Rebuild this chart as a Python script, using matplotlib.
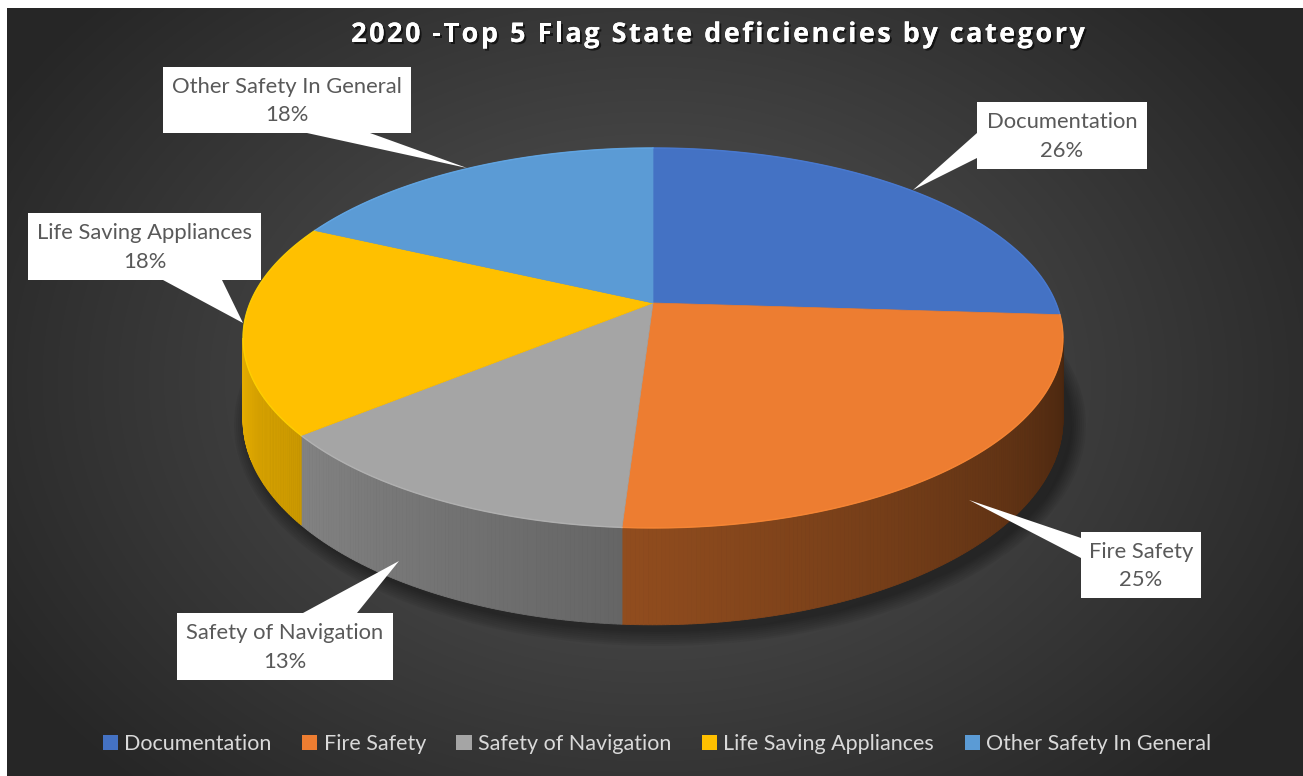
import numpy as np
import matplotlib
matplotlib.use("Agg")
import matplotlib.pyplot as plt
from matplotlib.patches import Polygon, Ellipse, Patch
import matplotlib.patheffects as pe

# data
categories = ["Documentation", "Fire Safety", "Safety of Navigation",
              "Life Saving Appliances", "Other Safety In General"]
shares = [26, 25, 13, 18, 18]
colors = ["#4472C4", "#ED7D31", "#A5A5A5", "#FFC000", "#5B9BD5"]
title = "2020 -Top 5 Flag State deficiencies by category"

W, H = 1303, 776

# pie geometry (pixels), simple perspective of a tilted disc
cx, cy = 653, 303
A, B, p = 403, 183.6, 0.184
T = 79  # thickness at unit depth

# callout layout: box (x0, y0, x1, y1), pointer base (2 pts), tip
callouts = [
    ((977, 102, 1147, 169), ((977, 133), (977, 158)), (913, 190)),
    ((1081, 532, 1201, 598), ((1081, 538), (1081, 558)), (969, 500)),
    ((177, 613, 393, 680), ((303, 613), (357, 613)), (399, 561)),
    ((28, 213, 261, 280), ((163, 280), (222, 280)), (243, 323)),
    ((163, 67, 411, 133), ((307, 133), (370, 133)), (467, 168)),
]


def rim(phi):
    r = np.radians(phi)
    u, v = np.sin(r), -np.cos(r)
    w = 1 - p * v
    return cx + A * u / w, cy + B * v / w, T / w


def shade(hexc, f):
    c = np.array(matplotlib.colors.to_rgb(hexc))
    return tuple(np.clip(c * f, 0, 1))


fig = plt.figure(figsize=(W / 100, H / 100), dpi=100, facecolor="white")
ax = fig.add_axes([0, 0, 1, 1])
ax.set_xlim(0, W)
ax.set_ylim(H, 0)
ax.axis("off")

# background radial gradient
yy, xx = np.mgrid[8:H, 7:W]
rr = np.sqrt(((xx - 650) / 760.0) ** 2 + ((yy - 380) / 560.0) ** 2)
rr = np.clip(rr, 0, 1)
g = 0x58 / 255 * (1 - rr) + 0x26 / 255 * rr
ax.imshow(np.dstack([g, g, g]), extent=(7, W, H, 8), origin="upper",
          interpolation="bilinear", zorder=0, aspect="auto")

# soft shadow under the pie
for d in range(16, 0, -2):
    ax.add_patch(Ellipse((660, 425), 2 * (410 + d), 2 * (205 + d),
                         facecolor="black", alpha=0.05, lw=0, zorder=1))

# slices
bounds = np.concatenate([[0], np.cumsum(shares)]) / sum(shares) * 360
vis0 = np.degrees(np.arccos(-p))
vis1 = 360 - vis0

for i in range(len(shares)):
    a0, a1 = bounds[i], bounds[i + 1]
    s0, s1 = max(a0, vis0), min(a1, vis1)
    if s1 > s0:
        steps = np.linspace(s0, s1, max(int((s1 - s0) * 2), 2))
        for b0, b1 in zip(steps[:-1], steps[1:]):
            x0, y0, t0 = rim(b0)
            x1, y1, t1 = rim(b1)
            mid = 0.5 * (b0 + b1)
            f = 0.30 + (mid - vis0) / (vis1 - vis0) * 0.60
            c = shade(colors[i], f)
            ax.add_patch(Polygon([(x0, y0), (x1, y1), (x1, y1 + t1), (x0, y0 + t0)],
                                 closed=True, facecolor=c, edgecolor=c,
                                 lw=0.6, zorder=2))

for i in range(len(shares)):
    a0, a1 = bounds[i], bounds[i + 1]
    ph = np.linspace(a0, a1, 200)
    pts = [(cx, cy)] + [rim(a)[:2] for a in ph]
    ax.add_patch(Polygon(pts, closed=True, facecolor=colors[i],
                         edgecolor=colors[i], lw=0.5, zorder=3))
    xs, ys = zip(*pts[1:])
    ax.plot(xs, ys, color=shade(colors[i], 1.12), lw=1.0, zorder=4, alpha=0.7)

# callouts
for (box, base, tip), name, val in zip(callouts, categories, shares):
    x0, y0, x1, y1 = box
    ax.add_patch(Polygon([(x0, y0), (x1, y0), (x1, y1), (x0, y1)], closed=True,
                         facecolor="white", edgecolor="none", zorder=5))
    ax.add_patch(Polygon([base[0], base[1], tip], closed=True,
                         facecolor="white", edgecolor="none", zorder=5))
    ax.text((x0 + x1) / 2, (y0 + y1) / 2 + 1, f"{name}\n{val}%", ha="center",
            va="center", fontsize=15.8, color="#595959", family="Lato",
            linespacing=1.55, zorder=6)

# title with letter spacing
renderer = fig.canvas.get_renderer()
shadow = [pe.withSimplePatchShadow(offset=(1.5, -1.5), shadow_rgbFace="black",
                                   alpha=0.6), pe.Normal()]
chars = []
widths = []
for ch in title:
    t = ax.text(0, 35, ch, ha="left", va="center", fontsize=19.5,
                fontweight="bold", color="white", family="Open Sans",
                zorder=6, path_effects=shadow)
    chars.append(t)
    if ch == " ":
        probe = ax.text(0, 0, "a a", fontsize=19.5, fontweight="bold",
                        family="Open Sans")
        probe2 = ax.text(0, 0, "aa", fontsize=19.5, fontweight="bold",
                         family="Open Sans")
        wpx = (probe.get_window_extent(renderer).width
               - probe2.get_window_extent(renderer).width)
        probe.remove()
        probe2.remove()
    else:
        wpx = t.get_window_extent(renderer).width
    widths.append(wpx)
gap = 2.45
total = sum(widths) + gap * (len(title) - 1)
x = 718 - total / 2
for t, wpx in zip(chars, widths):
    t.set_x(x)
    x += wpx + gap

# legend
handles = [Patch(facecolor=c, edgecolor="none") for c in colors]
ax.legend(handles, categories, loc="center", bbox_to_anchor=(657 / W, 1 - 744 / H),
          ncol=5, frameon=False, labelcolor="#d9d9d9",
          handlelength=0.7, handleheight=0.7, handletextpad=0.3,
          columnspacing=1.42, prop={"family": "Lato", "size": 15.5})

fig.savefig("out.png", dpi=100, facecolor="white")
